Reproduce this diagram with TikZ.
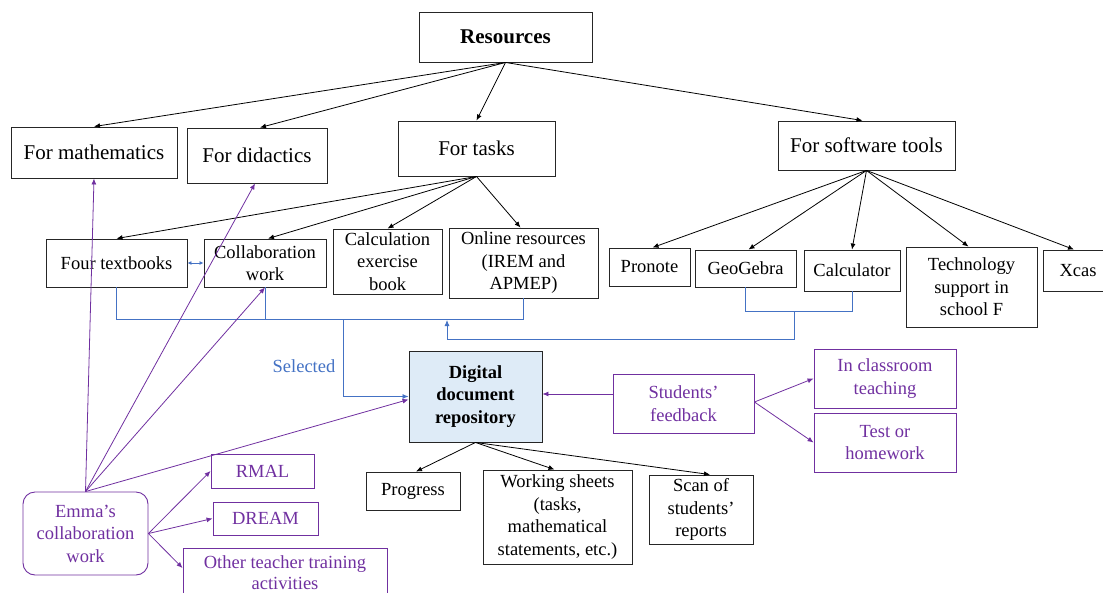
\documentclass[tikz,border=0pt]{standalone}
\usepackage{fontspec}
\setmainfont{Liberation Serif}
\usetikzlibrary{arrows.meta,calc}
\definecolor{pur}{HTML}{7030A0}
\definecolor{blu}{HTML}{4472C4}
\definecolor{rep}{HTML}{DEEBF7}
\begin{document}
\begin{tikzpicture}[x=1pt,y=-1pt,
  box/.style={draw=black!85,line width=0.9pt,align=center,inner sep=0pt,font=\fontsize{18.5}{22.5}\selectfont},
  big/.style={box,font=\fontsize{21}{24}\selectfont},
  pbox/.style={box,draw=pur,text=pur},
  arr/.style={-{Latex[length=6pt,width=5pt]},line width=0.8pt},
  barr/.style={arr,draw=blu},
  parr/.style={arr,draw=pur},
  bline/.style={draw=blu,line width=0.9pt},
  wh/.style 2 args={minimum width=#1pt,minimum height=#2pt}]
\useasboundingbox (0,0) rectangle (1103,592);
\clip (0,0) rectangle (1103,592);
% top
\node[big,wh={173}{50}] (res) at (505.5,37) {\textbf{Resources}};
\node[big,wh={166}{51}] (math) at (94,152.5) {For mathematics};
\node[big,wh={140}{55}] (did) at (257,155.5) {For didactics};
\node[big,wh={157}{55}] (tasks) at (476.5,148.5) {For tasks};
\node[big,wh={177}{49}] (soft) at (866.5,145.5) {For software tools};
% task resources
\node[box,wh={141}{48}] (four) at (116.5,263) {Four textbooks};
\node[box,wh={122}{48}] (collab) at (265,263) {Collaboration\\work};
\node[box,wh={109}{65}] (calc) at (387.5,261.5) {Calculation\\exercise\\book};
\node[box,wh={149}{70}] (online) at (523.5,263) {Online resources\\(IREM and\\APMEP)};
% software
\node[box,wh={81}{38}] (pronote) at (649.5,267) {Pronote};
\node[box,wh={101}{37}] (geo) at (745.5,268.5) {GeoGebra};
\node[box,wh={96}{41}] (calcr) at (852,270.5) {Calculator};
\node[box,wh={131}{80}] (tech) at (971.5,287) {Technology\\support in\\school F};
\node[box,wh={70}{41}] (xcas) at (1078,270.5) {Xcas};
% repository
\node[box,fill=rep,wh={133}{91}] (digital) at (475.5,396.5) {\bfseries Digital\\\bfseries document\\\bfseries repository};
\node[pbox,wh={141}{59}] (sfb) at (683.5,403.5) {Students’\\feedback};
\node[pbox,wh={142}{59}] (incl) at (885,378.5) {In classroom\\teaching};
\node[pbox,wh={142}{59}] (test) at (885,442.5) {Test or\\homework};
\node[box,wh={94}{38}] (prog) at (413,491) {Progress};
\node[box,wh={149}{94}] (work) at (557.5,517) {Working sheets\\(tasks,\\mathematical\\statements, etc.)};
\node[box,wh={104}{69}] (scan) at (701,509.5) {Scan of\\students’\\reports};
% Emma
\node[pbox,rounded corners=12pt,wh={125}{83}] (emma) at (85.5,533.5) {Emma’s\\collaboration\\work};
\node[pbox,wh={103}{34}] (rmal) at (262.5,471) {RMAL};
\node[pbox,wh={105}{33}] (dream) at (265.5,518.5) {DREAM};
\node[pbox,wh={204}{50},font=\fontsize{18.5}{21}\selectfont] (other) at (285,573) {Other teacher training\\activities};
% black arrows
\draw[arr] (res.south) -- (math.north);
\draw[arr] (res.south) -- ([xshift=3pt]did.north);
\draw[arr] (res.south) -- (tasks.north);
\draw[arr] (res.south) -- ([xshift=-4pt]soft.north);
\draw[arr] (tasks.south) -- (four.north);
\draw[arr] (tasks.south) -- ([xshift=3pt]collab.north);
\draw[arr] (tasks.south) -- (calc.north);
\draw[arr] (tasks.south) -- ([xshift=-3pt]online.north);
\draw[arr] (soft.south) -- ([xshift=3pt]pronote.north);
\draw[arr] (soft.south) -- ([xshift=3pt]geo.north);
\draw[arr] (soft.south) -- (calcr.north);
\draw[arr] (soft.south) -- ([xshift=-3pt]tech.north);
\draw[arr] (soft.south) -- ([xshift=-4pt]xcas.north);
\draw[arr] (digital.south) -- ([xshift=3pt]prog.north);
\draw[arr] (digital.south) -- ([xshift=-3pt]work.north);
\draw[arr] (digital.south) -- ([xshift=9pt]scan.north);
% blue connectors
\coordinate (selJ) at (343,319);
\draw[bline] (four.south) -- (four.south |- selJ) -| (online.south);
\draw[bline] (collab.south) -- (collab.south |- selJ);
\draw[barr] (selJ) |- (digital.west);
\node[text=blu,font=\fontsize{18.5}{22}\selectfont] (sel) at (304,366) {Selected};
\coordinate (swJ) at (794,311);
\coordinate (swL) at (447,339);
\coordinate (tkB) at (447,320);
\draw[bline] (geo.south) -- (geo.south |- swJ) -| (calcr.south);
\draw[barr] (swJ) |- (swL) -- (tkB);
\draw[blu,line width=0.9pt,{Latex[length=4pt,width=4pt]}-{Latex[length=4pt,width=4pt]}] (four.east) -- (collab.west);
% purple connectors
\draw[parr] (emma.north) -- (math.south);
\draw[parr] (emma.north) -- ([xshift=-2pt]did.south);
\draw[parr] (emma.north) -- (collab.south);
\draw[parr] (emma.north) -- ($(digital.west)+(0,3)$);
\draw[parr] (emma.east) -- (rmal.west);
\draw[parr] (emma.east) -- (dream.west);
\draw[parr] (emma.east) -- ($(other.west)+(0,-5)$);
\coordinate (fb) at (613,394);
\draw[parr] (fb) -- (digital.east |- fb);
\draw[parr] ($(sfb.east)+(0,-1.5)$) -- (incl.west);
\draw[parr] ($(sfb.east)+(0,-1.5)$) -- (test.west);
\end{tikzpicture}
\end{document}
